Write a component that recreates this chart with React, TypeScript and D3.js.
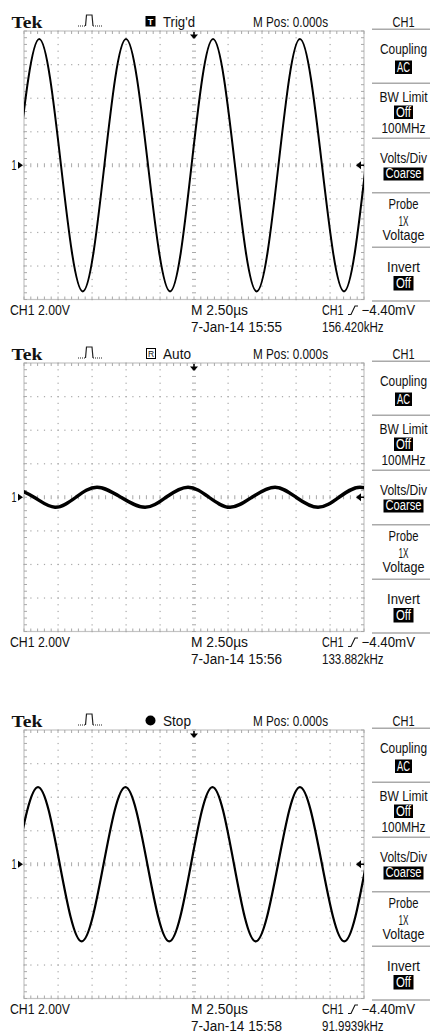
import React from 'react';
import * as d3 from 'd3';

// ---- data ----
const panelTops = [31, 363, 730];
const statusLabels = ["Trig'd", 'Auto', 'Stop'];
const dateLabels = ['7-Jan-14 15:55', '7-Jan-14 15:56', '7-Jan-14 15:58'];
const freqLabels = ['156.420kHz', '133.882kHz', '91.9939kHz'];
const scaleLabel = 'CH1  2.00V';
const timebaseLabel = 'M 2.50µs';
const trigLevelLabel = '−4.40mV';
const mposLabel = 'M Pos: 0.000s';

// waveform key points: time (µs) and volts
const wave1T = [-12.98, -11.38, -9.78, -8.18, -6.59, -5.0, -3.38, -1.76, -0.18, 1.4, 3.01, 4.61, 6.21, 7.79, 9.41, 11.03, 12.63];
const wave1V = [0, 7.52, 0, -7.52, 0, 7.52, 0, -7.52, 0, 7.52, 0, -7.52, 0, 7.52, 0, -7.52, 0];

const wave2T = [-13.31, -11.76, -10.22, -8.68, -7.13, -5.37, -3.6, -2.06, -0.44, 1.1, 2.65, 4.26, 5.96, 7.5, 9.12, 10.66, 12.21, 13.75];
const wave2V = [0.6, 0, -0.6, 0, 0.6, 0, -0.6, 0, 0.6, 0, -0.6, 0, 0.6, 0, -0.6, 0, 0.6, 0];

const wave3T = [-13.09, -11.47, -9.87, -8.26, -6.65, -5.04, -3.43, -1.82, -0.22, 1.36, 2.94, 4.54, 6.18, 7.79, 9.41, 11.05, 12.65];
const wave3V = [0, 4.6, 0, -4.6, 0, 4.6, 0, -4.6, 0, 4.6, 0, -4.6, 0, 4.6, 0, -4.6, 0];

const waveT = [wave1T, wave2T, wave3T];
const waveV = [wave1V, wave2V, wave3V];
const waveWidth = [2, 3.4, 2.2];

const menuTitles = ['Coupling', 'BW Limit', 'Volts/Div', 'Probe', 'Invert'];

const SANS = "'Liberation Sans', Arial, sans-serif";
const SERIF = "'Liberation Serif', 'Times New Roman', serif";

function Txt(props: { x: number; y: number; w?: number; anchor?: string; size?: number; sy?: number; fill?: string; family?: string; weight?: any; children: any }) {
  const { x, y, w, anchor = 'start', size = 12, sy = 1.15, fill = '#111', family = SANS, weight = 'normal', children } = props;
  return (
    <g transform={`translate(${x},${y}) scale(1,${sy})`}>
      <text x={0} y={0} textAnchor={anchor} fontSize={size} fill={fill} fontFamily={family} fontWeight={weight}
        textLength={w} lengthAdjust={w ? 'spacingAndGlyphs' : undefined}>
        {children}
      </text>
    </g>
  );
}

function InvBox(props: { cx: number; y0: number; w: number; h: number; tw: number; label: string }) {
  const { cx, y0, w, h, tw, label } = props;
  return (
    <g>
      <rect x={cx - w / 2} y={y0} width={w} height={h} fill="#000" />
      <Txt x={cx} y={y0 + h - 2.5} anchor="middle" w={tw} fill="#fff">{label}</Txt>
    </g>
  );
}

function Panel({ idx }: { idx: number }) {
  const G = panelTops[idx];
  const H = 268.5;
  const x = d3.scaleLinear().domain([-12.5, 12.5]).range([24, 364]);
  const y = d3.scaleLinear().domain([-8, 8]).range([G + H, G]);
  const majorT = d3.range(-10, 10.001, 2.5);
  const majorV = d3.range(-6, 6.001, 2);
  const minorT = d3.range(-12.5, 12.5001, 0.5);
  const minorV = d3.range(-8, 8.0001, 0.4);
  const cx = x(0);
  const cy = y(0);
  const T = waveT[idx];
  const V = waveV[idx];
  const line = d3.line<number>()
    .x((_, i) => x(T[i]))
    .y((_, i) => y(V[i]))
    .curve(d3.curveNatural);
  const clipId = `clip${idx}`;
  const gridCol = '#a8a8a8';
  const mx = 403.5;
  const sepYs = [G - 1.7, G + 52.3, G + 107.3, G + 161.7, G + 216.3, G + 270];

  const dots: any[] = [];
  majorT.forEach((t) => {
    if (t === 0) return;
    minorV.forEach((v, j) => dots.push(<rect key={`dv${t}_${j}`} x={x(t) - 0.5} y={y(v) - 0.5} width={1.2} height={1.2} fill={gridCol} />));
  });
  majorV.forEach((v) => {
    if (v === 0) return;
    minorT.forEach((t, j) => dots.push(<rect key={`dh${v}_${j}`} x={x(t) - 0.5} y={y(v) - 0.5} width={1.2} height={1.2} fill={gridCol} />));
  });
  const ticks: any[] = [];
  minorT.forEach((t, j) => {
    ticks.push(<line key={`tc${j}`} x1={x(t)} x2={x(t)} y1={cy - 2} y2={cy + 2} stroke={gridCol} strokeWidth={1} />);
    ticks.push(<line key={`tt${j}`} x1={x(t)} x2={x(t)} y1={G} y2={G + 3} stroke={gridCol} strokeWidth={1} />);
    ticks.push(<line key={`tb${j}`} x1={x(t)} x2={x(t)} y1={G + H - 3} y2={G + H} stroke={gridCol} strokeWidth={1} />);
  });
  minorV.forEach((v, j) => {
    ticks.push(<line key={`vc${j}`} x1={cx - 2} x2={cx + 2} y1={y(v)} y2={y(v)} stroke={gridCol} strokeWidth={1} />);
    ticks.push(<line key={`vl${j}`} x1={24} x2={27} y1={y(v)} y2={y(v)} stroke={gridCol} strokeWidth={1} />);
    ticks.push(<line key={`vr${j}`} x1={361} x2={364} y1={y(v)} y2={y(v)} stroke={gridCol} strokeWidth={1} />);
  });

  const hb = G - 3.5; // header baseline
  const b1 = G + 284;
  const b2 = G + 301;

  let statusIcon: any;
  if (idx === 0) {
    statusIcon = (
      <g>
        <rect x={145.5} y={G - 15} width={10} height={10.5} fill="#000" />
        <Txt x={150.5} y={G - 6} anchor="middle" size={9} sy={1.1} fill="#fff" weight="bold">T</Txt>
      </g>
    );
  } else if (idx === 1) {
    statusIcon = (
      <g>
        <rect x={146.5} y={G - 14.5} width={9} height={10} fill="none" stroke="#000" strokeWidth={1} />
        <Txt x={151} y={G - 6} anchor="middle" size={8.5} sy={1.1}>R</Txt>
      </g>
    );
  } else {
    statusIcon = <circle cx={150.5} cy={G - 9.5} r={5} fill="#000" />;
  }

  return (
    <g>
      <defs>
        <clipPath id={clipId}>
          <rect x={24} y={G} width={340} height={H} />
        </clipPath>
      </defs>
      {/* header */}
      <Txt x={11.5} y={hb} size={17.5} sy={1} family={SERIF} weight="bold" w={31}>Tek</Txt>
      <path d={`M78,${G - 5} L85.5,${G - 5}`} stroke="#222" strokeWidth={1} strokeDasharray="1,1" />
      <path d={`M85.5,${G - 5} L86.5,${G - 16} L92,${G - 16} L93,${G - 5}`} stroke="#222" strokeWidth={1.2} fill="none" />
      <path d={`M93,${G - 5} L102,${G - 5}`} stroke="#222" strokeWidth={1} strokeDasharray="1,1" />
      {statusIcon}
      <Txt x={163} y={hb - 0.5} w={idx === 0 ? 32 : 28}>{statusLabels[idx]}</Txt>
      <Txt x={290.5} y={hb - 0.5} anchor="middle" w={75}>{mposLabel}</Txt>
      <Txt x={mx} y={hb - 0.5} anchor="middle" w={22}>CH1</Txt>

      {/* graticule */}
      <rect x={24} y={G} width={340} height={H} fill="none" stroke="#c4c4c4" strokeWidth={1.2} />
      {dots}
      {ticks}

      {/* waveform */}
      <g clipPath={`url(#${clipId})`}>
        <path d={line(V) || ''} fill="none" stroke="#000" strokeWidth={waveWidth[idx]} strokeLinejoin="round" />
      </g>

      {/* markers */}
      <line x1={cx} x2={cx} y1={G + 1} y2={G + 4} stroke="#000" strokeWidth={1.5} />
      <path d={`M${cx - 4},${G + 3.5} L${cx + 4},${G + 3.5} L${cx},${G + 8} Z`} fill="#000" />
      <path d={`M356,${cy} L361,${cy - 4} L361,${cy + 4} Z`} fill="#000" />
      <line x1={359} x2={364} y1={cy} y2={cy} stroke="#000" strokeWidth={1.5} />
      <Txt x={11.5} y={cy + 5} w={5}>1</Txt>
      <path d={`M18,${cy - 3.5} L23,${cy} L18,${cy + 3.5} Z`} fill="#000" />

      {/* side menu */}
      {sepYs.map((sy, i) => (
        <line key={`sep${i}`} x1={372} x2={430} y1={sy} y2={sy} stroke="#aaa" strokeWidth={1.6} />
      ))}
      <Txt x={mx} y={G + 22.5} anchor="middle" w={47}>{menuTitles[0]}</Txt>
      <InvBox cx={mx} y0={G + 29.5} w={17} h={13.5} tw={13} label="AC" />
      <Txt x={mx} y={G + 70.5} anchor="middle" w={48}>{menuTitles[1]}</Txt>
      <InvBox cx={mx} y0={G + 74.5} w={19} h={13.5} tw={15} label="Off" />
      <Txt x={mx} y={G + 101.5} anchor="middle" w={44}>100MHz</Txt>
      <Txt x={mx} y={G + 131.5} anchor="middle" w={47}>{menuTitles[2]}</Txt>
      <InvBox cx={mx} y0={G + 136.5} w={40} h={13} tw={36} label="Coarse" />
      <Txt x={mx} y={G + 178} anchor="middle" w={30}>{menuTitles[3]}</Txt>
      <Txt x={mx} y={G + 194.5} anchor="middle" w={10}>1X</Txt>
      <Txt x={mx} y={G + 209} anchor="middle" w={42}>Voltage</Txt>
      <Txt x={mx} y={G + 241} anchor="middle" w={33}>{menuTitles[4]}</Txt>
      <InvBox cx={mx} y0={G + 245} w={20} h={14.5} tw={15} label="Off" />

      {/* footer */}
      <Txt x={10} y={b1} w={60}>{scaleLabel}</Txt>
      <Txt x={191} y={b1} w={57}>{timebaseLabel}</Txt>
      <Txt x={322} y={b1} w={21.5}>CH1</Txt>
      <path d={`M348,${b1 - 0.5} L351,${b1 - 0.5} L355,${b1 - 9} L358,${b1 - 9}`} stroke="#111" strokeWidth={1.1} fill="none" />
      <Txt x={361.5} y={b1} w={53.5}>{trigLevelLabel}</Txt>
      <Txt x={191} y={b2} w={91}>{dateLabels[idx]}</Txt>
      <Txt x={322} y={b2} w={61.5}>{freqLabels[idx]}</Txt>
    </g>
  );
}

export default function App() {
  return (
    <svg width={430} height={1035} viewBox="0 0 430 1035" style={{ position: 'absolute', left: 0, top: 0, background: '#fff' }}>
      <rect x={0} y={0} width={430} height={1035} fill="#fff" />
      {[0, 1, 2].map((i) => <Panel key={i} idx={i} />)}
    </svg>
  );
}
